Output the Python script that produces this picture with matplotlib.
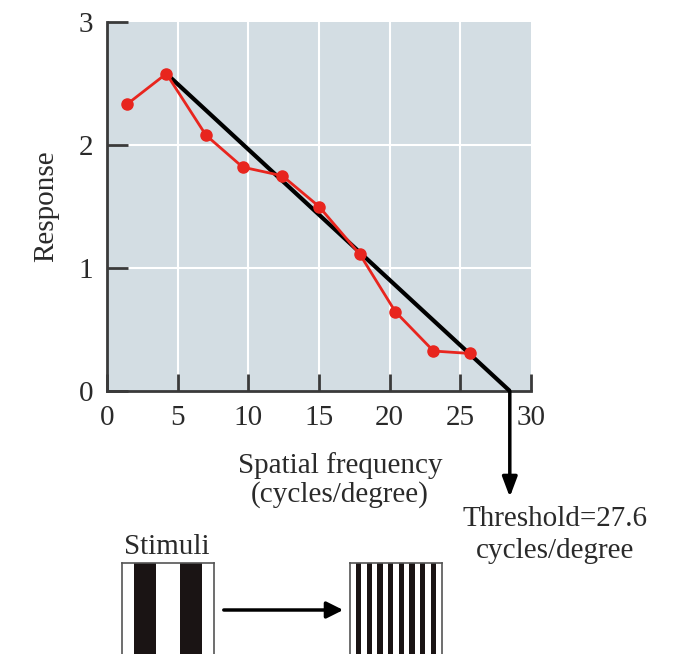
import matplotlib
matplotlib.use("Agg")
import matplotlib.pyplot as plt
from matplotlib.patches import Rectangle, FancyArrowPatch

# ---- data ----
freq = [1.4, 4.2, 7.0, 9.6, 12.4, 15.0, 17.9, 20.4, 23.1, 25.7]
response = [2.33, 2.58, 2.08, 1.82, 1.75, 1.50, 1.11, 0.645, 0.325, 0.305]
fit_start = (4.2, 2.58)
fit_end_x = 28.5          # where the drawn line meets the axis
threshold_label = "Threshold=27.6\ncycles/degree"
x_ticks = [0, 5, 10, 15, 20, 25, 30]
y_ticks = [0, 1, 2, 3]
stimulus_cycles = [2, 8]

W, H = 673, 654
plt.rcParams['font.family'] = ['Liberation Serif', 'DejaVu Serif']
fig = plt.figure(figsize=(W / 100, H / 100), dpi=100)

def fx(px):
    return px / W

def fy(py):
    return 1 - py / H

BG = '#d3dde3'
SPINE = '#3a3a3a'
RED = '#e8251e'
TXT = '#2a2a2a'
FS = 21

ax = fig.add_axes([fx(107), fy(391), fx(531) - fx(107), fy(22) - fy(391)])
ax.set_facecolor(BG)
ax.set_xlim(0, 30)
ax.set_ylim(0, 3)
for s in ['top', 'right']:
    ax.spines[s].set_visible(False)
for s in ['left', 'bottom']:
    ax.spines[s].set_color(SPINE)
    ax.spines[s].set_linewidth(2)
ax.set_xticks(x_ticks)
ax.set_yticks(y_ticks)
ax.tick_params(axis='x', direction='in', length=12, width=2, color=SPINE,
               labelsize=FS, pad=10, labelcolor=TXT)
ax.tick_params(axis='y', direction='in', length=15, width=2, color=SPINE,
               labelsize=FS, pad=10, labelcolor=TXT)
for x in x_ticks[1:-1]:
    ax.axvline(x, color='white', lw=1.5, zorder=1)
for y in y_ticks[1:-1]:
    ax.axhline(y, color='white', lw=1.5, zorder=1)

ax.plot([fit_start[0], fit_end_x], [fit_start[1], 0], color='black', lw=3,
        zorder=3, solid_capstyle='butt', clip_on=False)
ax.plot(freq, response, color=RED, lw=2, marker='o', ms=8, zorder=4,
        clip_on=False)

ax.set_ylabel('Response', fontsize=FS, labelpad=14, color=TXT)

# threshold arrow
ax.annotate('', xy=(fit_end_x, -0.862), xytext=(fit_end_x, 0),
            xycoords='data', textcoords='data', annotation_clip=False,
            arrowprops=dict(arrowstyle='-|>,head_length=1.2,head_width=0.45',
                            color='black', lw=2.5, shrinkA=0, shrinkB=0))
fig.text(fx(555), fy(535), threshold_label, ha='center', va='center',
         fontsize=FS, linespacing=1.3, color=TXT)
fig.text(fx(340), fy(480), 'Spatial frequency\n(cycles/degree)', ha='center',
         va='center', fontsize=FS, linespacing=1.1, color=TXT)

# stimuli
fig.text(fx(167), fy(547), 'Stimuli', ha='center', va='center', fontsize=FS,
         color=TXT)

def stimulus(x0, ncyc, margin, duty):
    sa = fig.add_axes([fx(x0), fy(654), fx(92), fy(563) - fy(654)])
    sa.set_xlim(0, 1)
    sa.set_ylim(0, 1)
    sa.set_xticks([])
    sa.set_yticks([])
    for s in ['left', 'right', 'top']:
        sa.spines[s].set_color('#555555')
        sa.spines[s].set_linewidth(1.2)
    sa.spines['bottom'].set_visible(False)
    period = (1 - 2 * margin) / (ncyc - (1 - duty))
    for i in range(ncyc):
        sa.add_patch(Rectangle((margin + i * period, 0), period * duty, 1,
                               color='#1a1414', lw=0))

stimulus(122, stimulus_cycles[0], 0.13, 0.47)
stimulus(350, stimulus_cycles[1], 0.065, 0.5)

arr = FancyArrowPatch((fx(221), fy(610)), (fx(346), fy(610)),
                      transform=fig.transFigure,
                      arrowstyle='-|>,head_length=10,head_width=5',
                      mutation_scale=1, color='black', lw=2.5)
fig.patches.append(arr)

fig.savefig('out.png', dpi=100)
